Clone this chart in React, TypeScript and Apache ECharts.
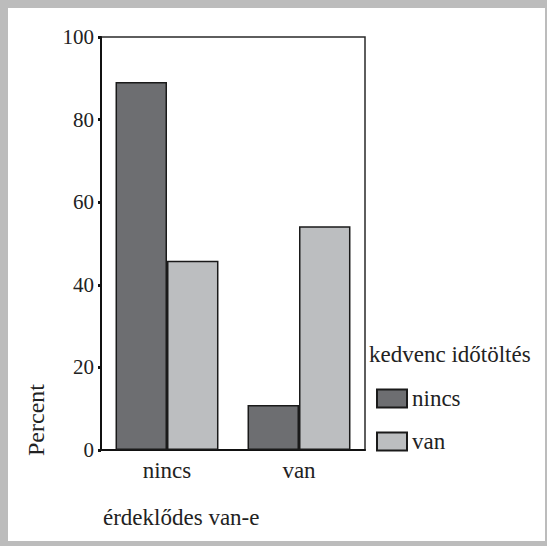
import React, { useEffect, useRef } from "react";
import * as echarts from "echarts";

const categories = ["nincs", "van"];
const seriesNames = ["nincs", "van"];
const valuesNincs = [89.1, 10.9];
const valuesVan = [45.8, 54.2];
const yTicks = { min: 0, max: 100, interval: 20 };

const FONT = "Liberation Serif, serif";
const WORD = 23;

export default function App() {
  const ref = useRef<HTMLDivElement>(null);
  useEffect(() => {
    if (!ref.current) return;
    const chart = echarts.init(ref.current, undefined, { renderer: "svg" });
    chart.setOption({
      animation: false,
      backgroundColor: "#ffffff",
      textStyle: { fontFamily: FONT, color: "#222" },
      grid: {
        left: 93,
        top: 29,
        width: 264,
        height: 413,
        show: true,
        borderColor: "#2a2a2a",
        borderWidth: 1.5,
      },
      title: {
        text: "kedvenc időtöltés",
        left: 361,
        top: 335,
        padding: 0,
        textStyle: { fontFamily: FONT, fontSize: WORD, fontWeight: "normal", color: "#222" },
      },
      legend: {
        orient: "vertical",
        left: 368,
        top: 379,
        padding: 0,
        itemWidth: 30,
        itemHeight: 18,
        itemGap: 20,
        icon: "rect",
        data: seriesNames,
        textStyle: { fontFamily: FONT, fontSize: WORD, color: "#222", lineHeight: 18 },
      },
      xAxis: {
        type: "category",
        data: categories,
        axisLine: { lineStyle: { color: "#111", width: 2 } },
        axisTick: { alignWithLabel: true, length: 4, lineStyle: { color: "#111", width: 5 } },
        axisLabel: { fontFamily: FONT, fontSize: WORD, color: "#222", margin: 9 },
      },
      yAxis: {
        type: "value",
        min: yTicks.min,
        max: yTicks.max,
        interval: yTicks.interval,
        splitLine: { show: false },
        axisLine: { show: true, lineStyle: { color: "#111", width: 2 } },
        axisTick: { show: true, length: 3, lineStyle: { color: "#111", width: 3 } },
        axisLabel: { fontFamily: FONT, fontSize: 21, color: "#222", margin: 7 },
      },
      series: [
        {
          name: seriesNames[0],
          type: "bar",
          data: valuesNincs,
          barGap: "0%",
          barCategoryGap: "22%",
          itemStyle: { color: "#6d6e71", borderColor: "#1a1a1a", borderWidth: 1.5 },
        },
        {
          name: seriesNames[1],
          type: "bar",
          data: valuesVan,
          barGap: "0%",
          barCategoryGap: "22%",
          itemStyle: { color: "#bcbec0", borderColor: "#1a1a1a", borderWidth: 1.5 },
        },
      ],
      graphic: [
        {
          type: "text",
          x: 16,
          y: 448,
          rotation: Math.PI / 2,
          style: { text: "Percent", fontFamily: FONT, fontSize: 24, fill: "#222" },
        },
        {
          type: "text",
          x: 95,
          y: 498,
          style: { text: "érdeklődes van-e", fontFamily: FONT, fontSize: WORD, fill: "#222" },
        },
      ],
    });
    return () => chart.dispose();
  }, []);
  return (
    <div style={{ position: "fixed", left: 0, top: 0, width: 547, height: 546, background: "#bcbcbc" }}>
      <div
        ref={ref}
        style={{ position: "absolute", left: 8, top: 8, width: 537, height: 533, background: "#fff" }}
      />
    </div>
  );
}
